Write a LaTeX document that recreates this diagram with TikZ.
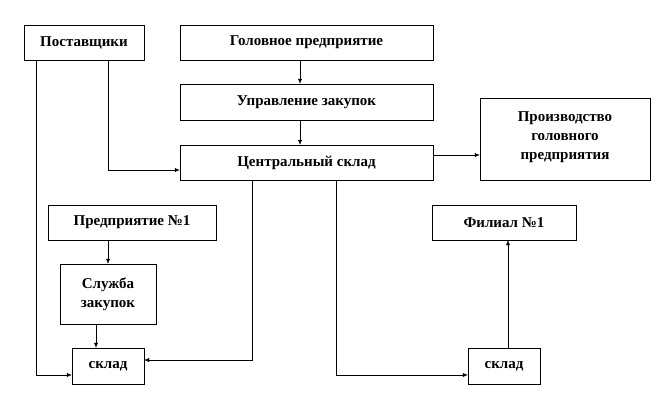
\documentclass[tikz,border=0pt]{standalone}
\usepackage{fontspec}
\setmainfont{Liberation Serif}
\usetikzlibrary{arrows.meta}
\begin{document}
\begin{tikzpicture}[x=1pt,y=-1pt,
  box/.style={draw,thin,align=center,font=\bfseries\fontsize{15}{19}\selectfont,inner sep=0pt},
  arr/.style={thin,-{Latex[length=5pt,width=4pt]}}]
\useasboundingbox (0,0) rectangle (672,408);
\node[box,minimum width=120,minimum height=35] (sup) at (84,42.5) {Поставщики};
\node[box,minimum width=253,minimum height=35] (head) at (306.5,42.5) {Головное предприятие};
\node[box,minimum width=253,minimum height=36] (upr) at (306.5,102) {Управление закупок};
\node[box,minimum width=253,minimum height=35] (cen) at (306.5,162.5) {Центральный склад};
\node[box,minimum width=170,minimum height=82,anchor=north] (prod) at (565,98) {\\[-13pt]Производство\\головного\\предприятия};
\node[box,minimum width=168,minimum height=35] (p1) at (132,222.5) {Предприятие №1};
\node[box,minimum width=144,minimum height=35] (fil) at (504,222.5) {Филиал №1};
\node[box,minimum width=96,minimum height=60] (sl) at (108,294) {Служба\\закупок};
\node[box,minimum width=72,minimum height=36] (skl) at (108,366) {склад};
\node[box,minimum width=72,minimum height=36] (skr) at (504,366) {склад};
\draw[arr] (head.south -| 300,0) -- (upr.north -| 300,0);
\draw[arr] (upr.south -| 300,0) -- (cen.north -| 300,0);
\draw[arr] (cen.east |- 0,155) -- (prod.west |- 0,155);
\draw[arr] (sup.south -| 108,0) -- (108,170) -- (cen.west |- 0,170);
\draw[arr] (sup.south -| 36,0) -- (36,375) -- (skl.west |- 0,375);
\draw[arr] (cen.south -| 252,0) -- (252,360) -- (skl.east |- 0,360);
\draw[arr] (cen.south -| 336,0) -- (336,375) -- (skr.west |- 0,375);
\draw[arr] (p1.south -| 108,0) -- (sl.north -| 108,0);
\draw[arr] (sl.south -| 96,0) -- (skl.north -| 96,0);
\draw[arr] (skr.north -| 508,0) -- (fil.south -| 508,0);
\end{tikzpicture}
\end{document}
